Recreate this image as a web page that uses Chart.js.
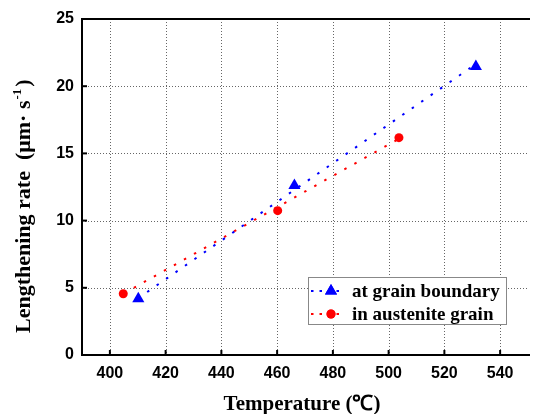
<!DOCTYPE html>
<html>
<head>
<meta charset="utf-8">
<script src="https://cdn.jsdelivr.net/npm/chart.js@4.4.1/dist/chart.umd.min.js"></script>
<style>
html,body{margin:0;padding:0;background:#fff;overflow:hidden;}
#wrap{width:535px;height:414px;position:relative;}
</style>
</head>
<body>
<div id="wrap"><canvas id="c"></canvas></div>
<script>
// ---- data ----
const gbTemps = [410.2, 466.2, 531.3];
const gbRates = [4.19, 12.62, 21.47];
const agTemps = [404.8, 460.2, 503.7];
const agRates = [4.56, 10.74, 16.17];
// linear fit lines (endpoints)
const gbFitTemps = [410, 531.3];
const gbFitRates = [4.2, 21.65];
const agFitTemps = [405, 503.7];
const agFitRates = [4.58, 16.09];
// axis ticks
const xTicks = [400, 420, 440, 460, 480, 500, 520, 540];
const yTicks = [0, 5, 10, 15, 20, 25];
const seriesNames = ['at grain boundary', 'in austenite grain'];
const xTitle = 'Temperature (℃)';
const yTitleMain = 'Lengthening rate  (μm· s';
const yTitleSup = '-1';
const yTitleEnd = ')';

const BLUE = '#0000FF', RED = '#FF0000';
const pts = (xs, ys) => xs.map((x, i) => ({x: x, y: ys[i]}));
const TRI_R = 7, CIR_R = 4.5;

const frame = {
  id: 'frame',
  beforeDatasetsDraw(chart) {
    const {ctx, chartArea: a, scales: {x, y}} = chart;
    ctx.save();
    ctx.strokeStyle = '#666';
    ctx.lineWidth = 1;
    ctx.setLineDash([1, 2]);
    xTicks.forEach(v => {
      const px = Math.round(x.getPixelForValue(v)) + 0.5;
      ctx.beginPath(); ctx.moveTo(px, a.top); ctx.lineTo(px, a.bottom); ctx.stroke();
    });
    yTicks.forEach(v => {
      if (v === 0 || v === 25) return;
      const py = Math.round(y.getPixelForValue(v)) + 0.5;
      ctx.beginPath(); ctx.moveTo(a.left, py); ctx.lineTo(a.right, py); ctx.stroke();
    });
    ctx.restore();
  },
  afterDatasetsDraw(chart) {
    const {ctx, chartArea: a, scales: {x, y}} = chart;
    ctx.save();
    ctx.strokeStyle = '#000';
    ctx.lineWidth = 2;
    ctx.setLineDash([]);
    ctx.beginPath();
    ctx.moveTo(a.right + 2, a.top); ctx.lineTo(a.left, a.top);
    ctx.lineTo(a.left, a.bottom); ctx.lineTo(a.right + 2, a.bottom);
    ctx.stroke();
    xTicks.forEach(v => {
      const px = x.getPixelForValue(v);
      ctx.beginPath(); ctx.moveTo(px, a.bottom); ctx.lineTo(px, a.bottom - 5); ctx.stroke();
    });
    yTicks.forEach(v => {
      const py = y.getPixelForValue(v);
      ctx.beginPath(); ctx.moveTo(a.left, py); ctx.lineTo(a.left + 5, py); ctx.stroke();
    });
    ctx.restore();
  },
  afterDraw(chart) {
    const {ctx, chartArea: a} = chart;
    // axis titles
    ctx.save();
    ctx.fillStyle = '#000';
    ctx.font = 'bold 21px "Liberation Serif"';
    ctx.textAlign = 'center';
    ctx.textBaseline = 'alphabetic';
    ctx.fillText(xTitle, a.left + 220, 410);
    ctx.restore();

    ctx.save();
    ctx.fillStyle = '#000';
    ctx.translate(30, 333);
    ctx.rotate(-Math.PI / 2);
    ctx.textAlign = 'left';
    ctx.textBaseline = 'alphabetic';
    ctx.font = 'bold 22px "Liberation Serif"';
    ctx.fillText(yTitleMain, 0, 0);
    let w = ctx.measureText(yTitleMain).width;
    ctx.font = 'bold 13px "Liberation Serif"';
    ctx.fillText(yTitleSup, w + 1, -9);
    w += ctx.measureText(yTitleSup).width + 3;
    ctx.font = 'bold 22px "Liberation Serif"';
    ctx.fillText(yTitleEnd, w, 0);
    ctx.restore();

    // legend
    const bx = a.left + 226, by = a.top + 258, bw = 198, bh = 47;
    ctx.save();
    ctx.fillStyle = '#fff';
    ctx.fillRect(bx, by, bw, bh);
    ctx.strokeStyle = '#888';
    ctx.lineWidth = 1;
    ctx.strokeRect(bx + 0.5, by + 0.5, bw, bh);
    const rows = [
      {name: seriesNames[0], color: BLUE, style: 'triangle', r: TRI_R},
      {name: seriesNames[1], color: RED, style: 'circle', r: CIR_R}
    ];
    rows.forEach((row, i) => {
      const cy = by + 14 + i * 23;
      ctx.strokeStyle = row.color;
      ctx.lineWidth = 2;
      ctx.setLineDash([2.5, 6]);
      ctx.beginPath(); ctx.moveTo(bx + 3, cy); ctx.lineTo(bx + 37, cy); ctx.stroke();
      ctx.setLineDash([]);
      ctx.fillStyle = row.color;
      Chart.helpers.drawPoint(ctx, {pointStyle: row.style, radius: row.r, rotation: 0, borderWidth: 0}, bx + 23, cy);
      ctx.fill();
      ctx.fillStyle = '#000';
      ctx.font = 'bold 19px "Liberation Serif"';
      ctx.textBaseline = 'middle';
      ctx.textAlign = 'left';
      ctx.fillText(row.name, bx + 44, cy + 1);
    });
    ctx.restore();
  }
};

new Chart(document.getElementById('c'), {
  type: 'scatter',
  data: {
    datasets: [
      {label: seriesNames[0], data: pts(gbTemps, gbRates), pointStyle: 'triangle', pointRadius: TRI_R,
       backgroundColor: BLUE, borderColor: BLUE, borderWidth: 0, order: 0},
      {label: seriesNames[1], data: pts(agTemps, agRates), pointStyle: 'circle', pointRadius: CIR_R,
       backgroundColor: RED, borderColor: RED, borderWidth: 0, order: 0},
      {label: 'fit gb', data: pts(gbFitTemps, gbFitRates), showLine: true, pointRadius: 0,
       borderColor: BLUE, borderWidth: 2, borderDash: [2.5, 9], order: 1},
      {label: 'fit ag', data: pts(agFitTemps, agFitRates), showLine: true, pointRadius: 0,
       borderColor: RED, borderWidth: 2, borderDash: [2.5, 9], order: 1}
    ]
  },
  options: {
    responsive: true,
    maintainAspectRatio: false,
    animation: false,
    devicePixelRatio: 1,
    layout: {padding: {top: 19, right: 0, left: 0, bottom: 0}},
    plugins: {legend: {display: false}, tooltip: {enabled: false}},
    scales: {
      x: {
        type: 'linear', min: 390, max: 550,
        afterBuildTicks: s => { s.ticks = xTicks.map(v => ({value: v})); },
        afterFit: s => { s.height = 59; },
        grid: {display: false, drawTicks: false},
        border: {display: false},
        ticks: {color: '#000', padding: 9, maxRotation: 0, font: {family: '"Liberation Sans"', size: 16, weight: 'bold'}},
        title: {display: false}
      },
      y: {
        type: 'linear', min: 0, max: 25,
        afterBuildTicks: s => { s.ticks = yTicks.map(v => ({value: v})); },
        afterFit: s => { s.width = 82; },
        grid: {display: false, drawTicks: false},
        border: {display: false},
        ticks: {color: '#000', padding: 8, font: {family: '"Liberation Sans"', size: 16, weight: 'bold'}},
        title: {display: false}
      }
    }
  },
  plugins: [frame]
});
</script>
</body>
</html>
